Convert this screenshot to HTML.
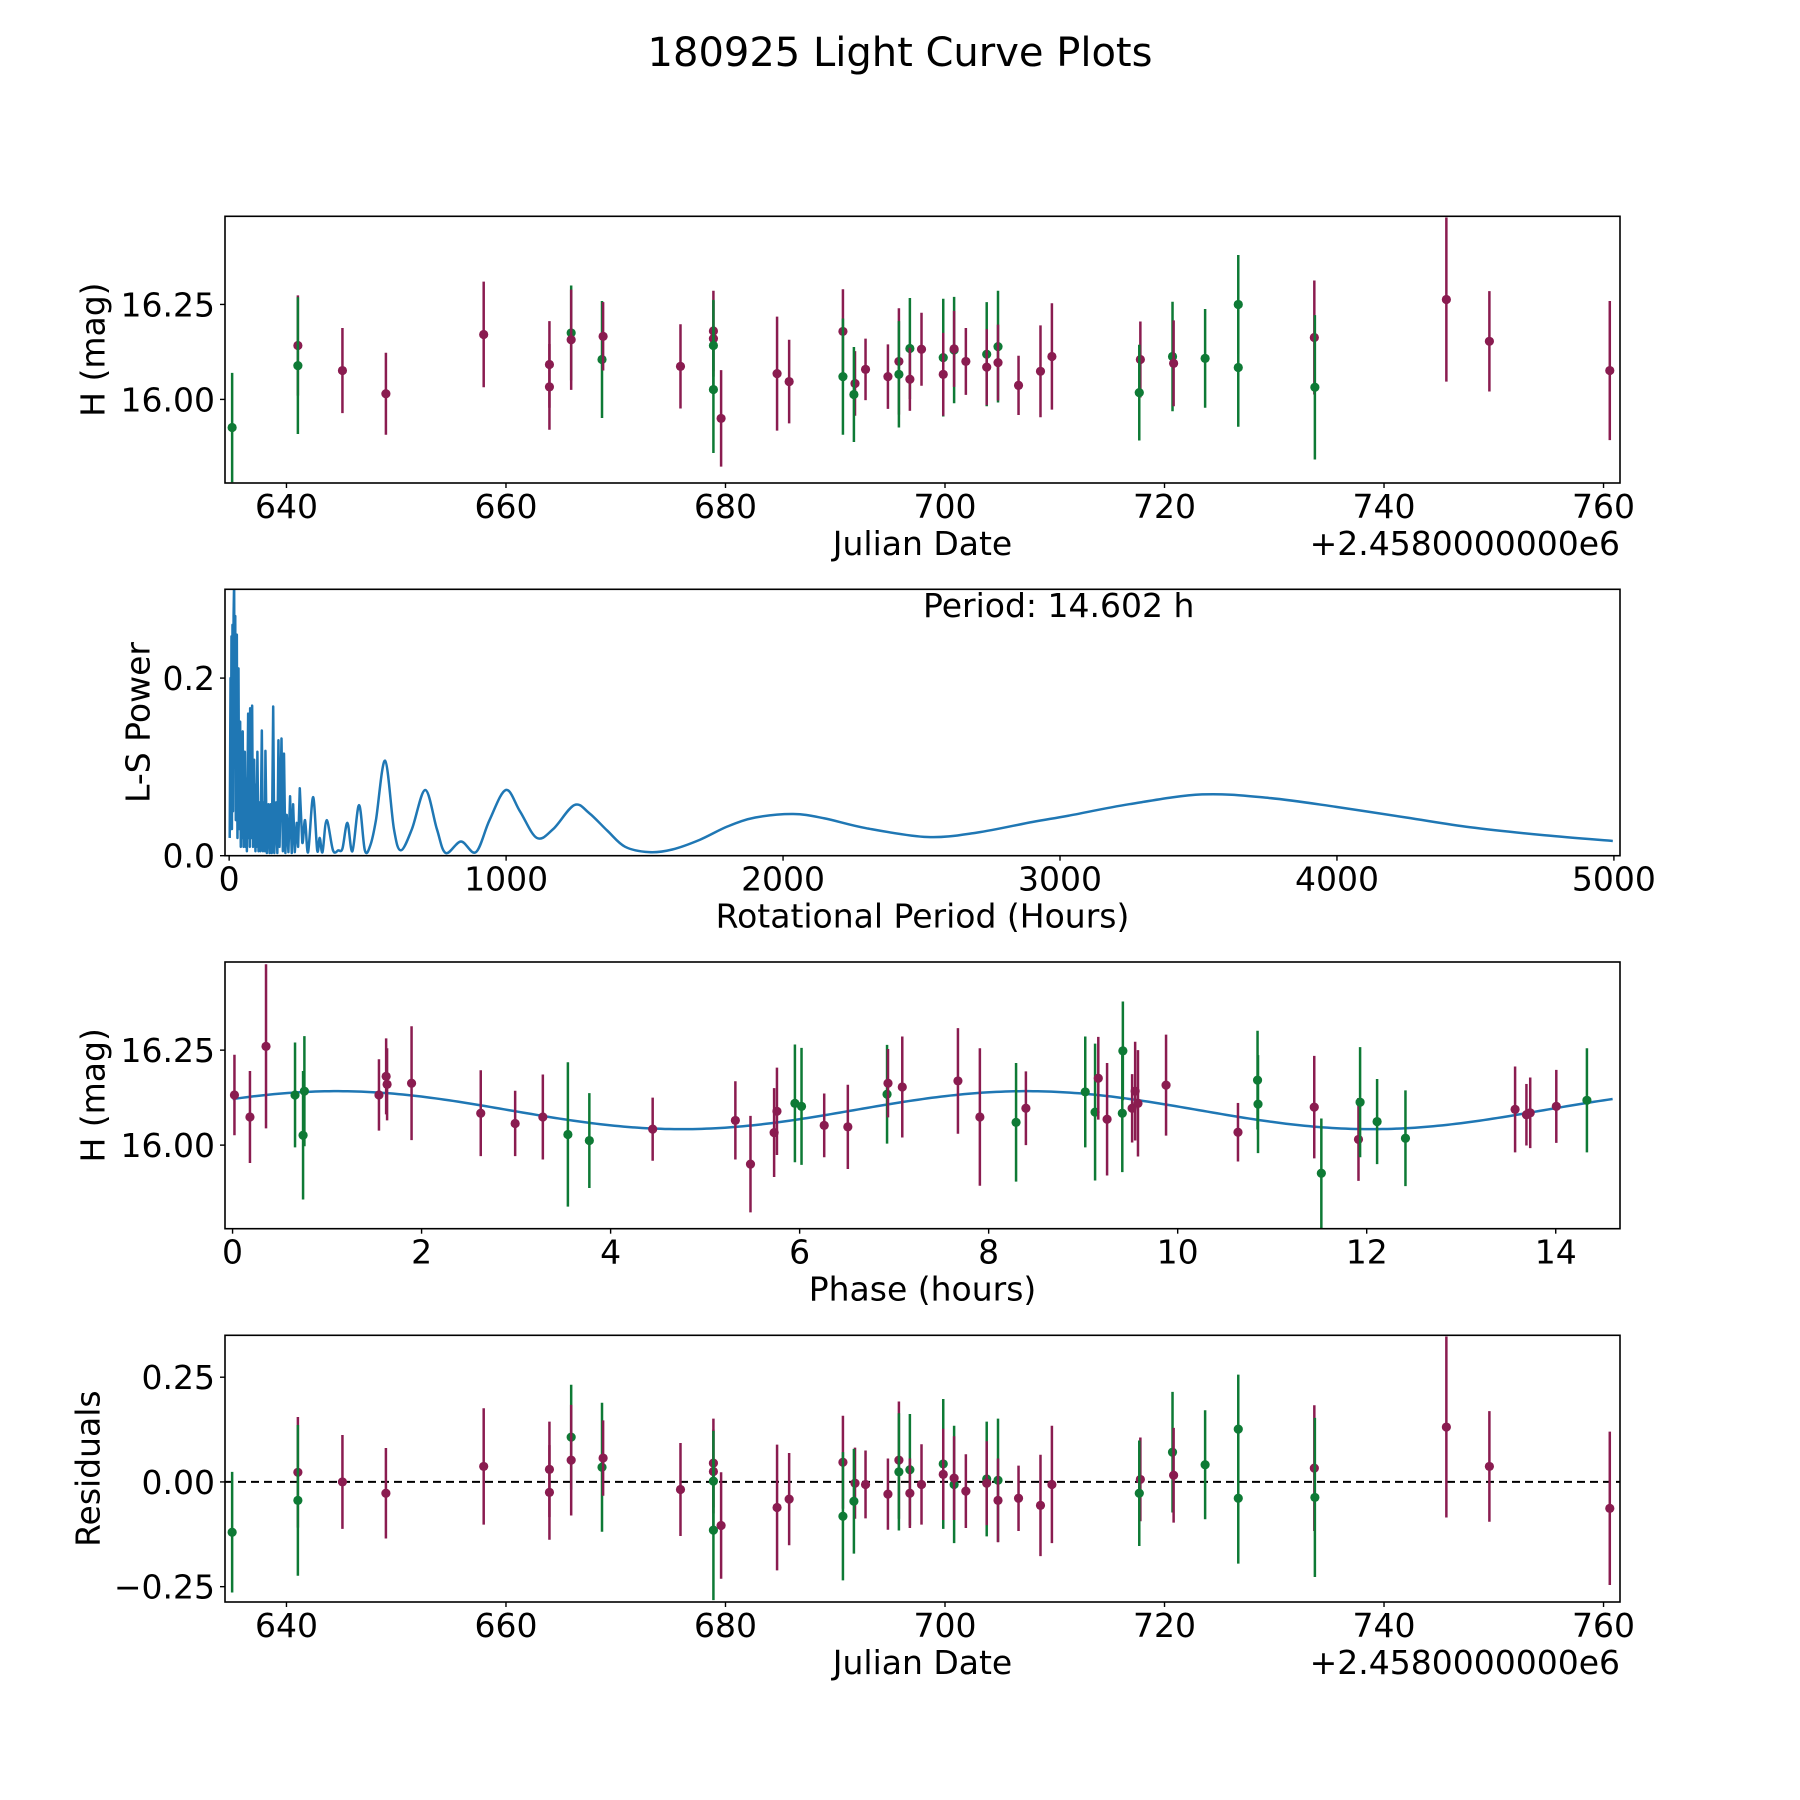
<!DOCTYPE html>
<html>
<head>
<meta charset="utf-8">
<style>
html,body{margin:0;padding:0;background:#fff;}
svg{display:block;}
text{font-family:"DejaVu Sans","Liberation Sans",sans-serif;fill:#000;}
</style>
</head>
<body>
<svg id="fig" width="1800" height="1800" viewBox="0 0 1800 1800" xmlns="http://www.w3.org/2000/svg">
<rect x="0" y="0" width="1800" height="1800" fill="#fff"/>
<text x="900" y="66" font-size="40" text-anchor="middle">180925 Light Curve Plots</text>
</svg>
<script>
// ---- Light curve data (Julian Date offset from 2458000) ----
const dates = [635.05,641.04,641.04,645.1,649.06,657.97,663.96,663.96,665.94,665.94,668.75,668.85,675.9,678.9,678.9,678.9,678.9,679.6,684.7,685.8,690.7,690.7,691.8,691.7,692.76,694.8,695.8,695.8,696.8,696.8,697.86,699.84,699.84,700.83,700.83,701.9,703.8,703.8,704.83,704.83,706.7,708.7,709.74,717.8,717.7,720.73,720.83,723.7,726.72,726.72,733.65,733.7,745.68,749.6,760.57];
const mags = [15.926,16.142,16.089,16.076,16.015,16.171,16.092,16.033,16.175,16.157,16.105,16.166,16.087,16.18,16.16,16.142,16.026,15.95,16.068,16.047,16.179,16.06,16.042,16.013,16.079,16.06,16.10,16.066,16.134,16.053,16.132,16.11,16.066,16.13,16.133,16.1,16.119,16.085,16.139,16.097,16.037,16.074,16.113,16.105,16.018,16.113,16.095,16.108,16.25,16.084,16.163,16.032,16.263,16.153,16.076];
const errs = [0.144,0.132,0.18,0.112,0.108,0.139,0.114,0.113,0.125,0.132,0.154,0.09,0.111,0.106,0.1,0.12,0.167,0.127,0.15,0.11,0.111,0.153,0.085,0.125,0.081,0.085,0.14,0.14,0.133,0.083,0.096,0.155,0.109,0.14,0.1,0.088,0.137,0.1,0.147,0.1,0.078,0.121,0.14,0.1,0.126,0.144,0.113,0.13,0.13,0.156,0.15,0.19,0.216,0.132,0.183];
const filters = ["G","P","G","P","P","P","P","P","G","P","G","P","P","P","P","G","G","P","P","P","P","G","P","G","P","P","P","G","G","P","P","G","P","G","P","P","G","P","G","P","P","P","P","P","G","G","P","G","G","G","P","G","P","P","P"];
const residuals = [-0.120,0.023,-0.044,0.0,-0.027,0.037,0.030,-0.025,0.107,0.052,0.035,0.057,-0.018,0.045,0.025,0.002,-0.115,-0.104,-0.061,-0.041,0.047,-0.082,-0.003,-0.046,-0.006,-0.029,0.052,0.024,0.029,-0.027,-0.006,0.043,0.018,-0.006,0.009,-0.022,0.007,-0.003,0.004,-0.044,-0.039,-0.056,-0.006,0.006,-0.027,0.071,0.016,0.041,0.126,-0.039,0.033,-0.037,0.131,0.037,-0.063];

// ---- Phased data ----
const phases = [0.02,0.184,0.354,0.661,0.76,0.746,1.549,1.625,1.635,1.894,2.626,2.99,3.283,3.548,3.775,4.445,5.32,5.48,5.73,5.76,5.95,6.02,6.26,6.51,6.925,6.935,7.086,7.675,7.907,8.29,8.394,9.022,9.126,9.16,9.253,9.414,9.42,9.518,9.55,9.58,9.877,10.638,10.845,10.85,11.445,11.52,11.913,11.93,12.11,12.41,13.57,13.69,13.73,14.006,14.33];
const phaseMags = [16.132,16.074,16.26,16.132,16.142,16.026,16.132,16.181,16.16,16.163,16.084,16.057,16.074,16.028,16.012,16.042,16.065,15.95,16.033,16.089,16.11,16.102,16.052,16.048,16.134,16.163,16.153,16.169,16.074,16.06,16.097,16.14,16.087,16.176,16.068,16.084,16.248,16.097,16.142,16.11,16.158,16.034,16.171,16.108,16.1,15.926,16.015,16.113,16.062,16.018,16.094,16.08,16.085,16.102,16.118];
const phaseErrs = [0.106,0.121,0.216,0.138,0.145,0.169,0.094,0.1,0.095,0.15,0.113,0.086,0.112,0.19,0.125,0.083,0.103,0.127,0.117,0.115,0.155,0.154,0.084,0.111,0.13,0.09,0.133,0.139,0.181,0.156,0.097,0.146,0.18,0.109,0.148,0.155,0.13,0.09,0.13,0.14,0.133,0.077,0.13,0.129,0.135,0.144,0.109,0.145,0.112,0.126,0.113,0.081,0.093,0.096,0.137];
const phaseFilters = ["P","P","P","G","G","G","P","P","P","P","P","P","P","G","G","P","P","P","P","P","G","G","P","P","G","P","P","P","P","G","P","G","G","P","P","G","G","P","P","P","P","P","G","G","P","G","P","G","G","G","P","P","P","P","G"];
// fitted model parameters
const modelMean = 16.092;
const modelAmp = 0.05;
const modelHalfPeriod = 7.3;
const modelPeakPhase = 1.1;
const bestPeriod = 14.602;

// ---- Periodogram ----
const lsPeriods = [2,5,6,8.4,10,12,14,16,18,20,22,24,27.7,30,33.7,36,39.7,42,45,47,49,52,56.6,59,61.4,64,68.6,71,73,74.5,75.8,78,80,81,83,86,90.3,95,98,99,102,106,110,113,118,122,127,129,131,136,142,146,150,154,159,163,170,174,178,182,189,194,198,203,208,214,220,226,231,237,244,249,255,264,274,285,303,318,327,337,352,375,394,409,427,445,469,490,510,530,563,595,620,660,708,750,782,837,891,940,999,1050,1111,1170,1246,1300,1366,1430,1517,1600,1700,1800,1900,2037,2150,2300,2521,2700,2900,3030,3250,3513,3755,3997,4250,4481,4750,4996];
const lsPowers = [0.02,0.2,0.05,0.247,0.03,0.26,0.05,0.27,0.31,0.1,0.27,0.04,0.249,0.02,0.211,0.03,0.151,0.01,0.12,0.02,0.14,0.01,0.117,0.01,0.087,0.005,0.16,0.02,0.12,0.01,0.166,0.03,0.14,0.02,0.169,0.01,0.108,0.005,0.08,0.01,0.117,0.005,0.06,0.005,0.141,0.005,0.06,0.005,0.118,0.003,0.058,0.003,0.058,0.003,0.168,0.003,0.06,0.003,0.13,0.01,0.132,0.005,0.115,0.003,0.046,0.004,0.067,0.003,0.058,0.004,0.037,0.01,0.076,0.015,0.04,0.004,0.066,0.006,0.02,0.004,0.04,0.006,0.006,0.008,0.037,0.005,0.057,0.006,0.012,0.04,0.107,0.03,0.006,0.03,0.074,0.03,0.003,0.016,0.004,0.04,0.074,0.05,0.02,0.03,0.057,0.048,0.028,0.01,0.004,0.007,0.018,0.033,0.043,0.047,0.042,0.031,0.021,0.026,0.038,0.045,0.058,0.069,0.065,0.055,0.043,0.032,0.023,0.0166];

// ---- Tick labels ----
const dateTicks = [640,660,680,700,720,740,760];
const magTicks = [16.00,16.25];
const lsXTicks = [0,1000,2000,3000,4000,5000];
const lsYTicks = [0.0,0.2];
const phaseTicks = [0,2,4,6,8,10,12,14];
const residTicks = [-0.25,0.00,0.25];

const NS = "http://www.w3.org/2000/svg";
const svg = document.getElementById("fig");
const PURPLE = "#8a1c50", GREEN = "#0e7a35", BLUE = "#1f77b4";
const FS = 33;
function mk(tag, attrs, parent){
  const e = document.createElementNS(NS, tag);
  for (const k in attrs) e.setAttribute(k, attrs[k]);
  (parent||svg).appendChild(e);
  return e;
}
const L = 225, R = 1620;
function scale(d0,d1,r0,r1){ return v => r0 + (v-d0)*(r1-r0)/(d1-d0); }

function axesFrame(name, top, bot, xs, xticks, xfmt, ys, yticks, yfmt, xlabel, ylabel, ylabelX, offsetText){
  const g = mk("g", {});
  
  
  const clipId = name + "-clip";
  const cp = mk("clipPath", {id: clipId}, g);
  mk("rect", {x: L, y: top, width: R-L, height: bot-top}, cp);
  const plot = mk("g", {"clip-path": "url(#"+clipId+")"}, g);
  
  
  const frame = mk("rect", {x: L, y: top, width: R-L, height: bot-top, fill: "none", stroke: "#000", "stroke-width": 1.6}, g);
  
  
  xticks.forEach(t => {
    const x = xs(t);
    const tk = mk("line", {x1: x, x2: x, y1: bot, y2: bot+5, stroke: "#000", "stroke-width": 1.4}, g);
    
    
    const tl = mk("text", {x: x, y: bot+35, "font-size": FS, "text-anchor": "middle"}, g);
    tl.textContent = xfmt(t);
    
    
  });
  yticks.forEach(t => {
    const y = ys(t);
    const tk = mk("line", {x1: L-5, x2: L, y1: y, y2: y, stroke: "#000", "stroke-width": 1.4}, g);
    
    
    const tl = mk("text", {x: L-10, y: y+12, "font-size": FS, "text-anchor": "end"}, g);
    tl.textContent = yfmt(t);
    
    
  });
  const xl = mk("text", {x: (L+R)/2, y: bot+72, "font-size": FS, "text-anchor": "middle"}, g);
  xl.textContent = xlabel;
  
  
  const cy = (top+bot)/2;
  const yl = mk("text", {x: ylabelX, y: cy, "font-size": FS, "text-anchor": "middle", transform: "rotate(-90 "+ylabelX+" "+cy+")", "dominant-baseline": "central"}, g);
  yl.textContent = ylabel;
  
  
  if (offsetText){
    const ot = mk("text", {x: R, y: bot+72, "font-size": FS, "text-anchor": "end"}, g);
    ot.textContent = offsetText;
    
    
  }
  return plot;
}
function errPoint(parent, x, y, y1, y2, color){
  const e = mk("line", {x1: x, x2: x, y1: y1, y2: y2, stroke: color, "stroke-width": 2.5}, parent);
  
  
  const c = mk("circle", {cx: x, cy: y, r: 4.6, fill: color}, parent);
  
  
}
const colorOf = f => f === "G" ? GREEN : PURPLE;
const fmt2 = v => v.toFixed(2).replace("-", "\u2212");

// ---- Panel 1: light curve ----
const p1top = 216.3, p1bot = 483;
const x1 = scale(634.4, 761.5, L, R);
const y1 = scale(15.78, 16.482, p1bot, p1top);
const plot1 = axesFrame("light-curve-panel", p1top, p1bot, x1, dateTicks, v => String(v), y1, magTicks, fmt2, "Julian Date", "H (mag)", 93, "+2.4580000000e6");
dates.forEach((d,i) => errPoint(plot1, x1(d), y1(mags[i]), y1(mags[i]+errs[i]), y1(mags[i]-errs[i]), colorOf(filters[i])));

// ---- Panel 2: periodogram ----
const p2top = 589.3, p2bot = 855.7;
const x2 = scale(-15, 5022, L, R);
const y2 = scale(0, 0.3, p2bot, p2top);
const plot2 = axesFrame("periodogram-panel", p2top, p2bot, x2, lsXTicks, v => String(v), y2, lsYTicks, v => v.toFixed(1), "Rotational Period (Hours)", "L-S Power", 138, null);
(function(){
  const pts = lsPeriods.map((p,i) => [x2(p), y2(lsPowers[i])]);
  let d = "M" + pts[0][0].toFixed(2) + "," + pts[0][1].toFixed(2);
  for (let i = 1; i < pts.length; i++){
    if (lsPeriods[i] <= 264){
      d += " L" + pts[i][0].toFixed(2) + "," + pts[i][1].toFixed(2);
    } else {
      const p0 = pts[Math.max(i-2,0)], pa = pts[i-1], pb = pts[i], p3 = pts[Math.min(i+1, pts.length-1)];
      const c1x = pa[0] + (pb[0]-p0[0])/6, c1y = pa[1] + (pb[1]-p0[1])/6;
      const c2x = pb[0] - (p3[0]-pa[0])/6, c2y = pb[1] - (p3[1]-pa[1])/6;
      d += " C" + c1x.toFixed(2) + "," + c1y.toFixed(2) + " " + c2x.toFixed(2) + "," + c2y.toFixed(2) + " " + pb[0].toFixed(2) + "," + pb[1].toFixed(2);
    }
  }
  const path = mk("path", {d: d, fill: "none", stroke: BLUE, "stroke-width": 2.5, "stroke-linejoin": "round"}, plot2);
  
  
})();
const ptxt = mk("text", {x: 923, y: 617, "font-size": FS});
ptxt.textContent = "Period: " + bestPeriod.toFixed(3) + " h";



// ---- Panel 3: phased light curve ----
const p3top = 962, p3bot = 1228.7;
const x3 = scale(-0.08, 14.68, L, R);
const y3 = scale(15.78, 16.482, p3bot, p3top);
const plot3 = axesFrame("phased-curve-panel", p3top, p3bot, x3, phaseTicks, v => String(v), y3, magTicks, fmt2, "Phase (hours)", "H (mag)", 93, null);
(function(){
  let d = "";
  for (let k = 0; k <= 300; k++){
    const ph = bestPeriod * k / 300;
    const m = modelMean + modelAmp * Math.cos(2*Math.PI*(ph - modelPeakPhase)/modelHalfPeriod);
    d += (k ? " L" : "M") + x3(ph).toFixed(2) + "," + y3(m).toFixed(2);
  }
  const path = mk("path", {d: d, fill: "none", stroke: BLUE, "stroke-width": 2.5}, plot3);
  
  
})();
phases.forEach((p,i) => errPoint(plot3, x3(p), y3(phaseMags[i]), y3(phaseMags[i]+phaseErrs[i]), y3(phaseMags[i]-phaseErrs[i]), colorOf(phaseFilters[i])));

// ---- Panel 4: residuals ----
const p4top = 1335.3, p4bot = 1602;
const x4 = scale(634.4, 761.5, L, R);
const y4 = scale(-0.2866, 0.35, p4bot, p4top);
const plot4 = axesFrame("residuals-panel", p4top, p4bot, x4, dateTicks, v => String(v), y4, residTicks, fmt2, "Julian Date", "Residuals", 88, "+2.4580000000e6");
const zl = mk("line", {x1: L, x2: R, y1: y4(0), y2: y4(0), stroke: "#000", "stroke-width": 2, "stroke-dasharray": "8,5"}, plot4);


dates.forEach((d,i) => errPoint(plot4, x4(d), y4(residuals[i]), y4(residuals[i]+errs[i]), y4(residuals[i]-errs[i]), colorOf(filters[i])));
</script>
</body>
</html>
